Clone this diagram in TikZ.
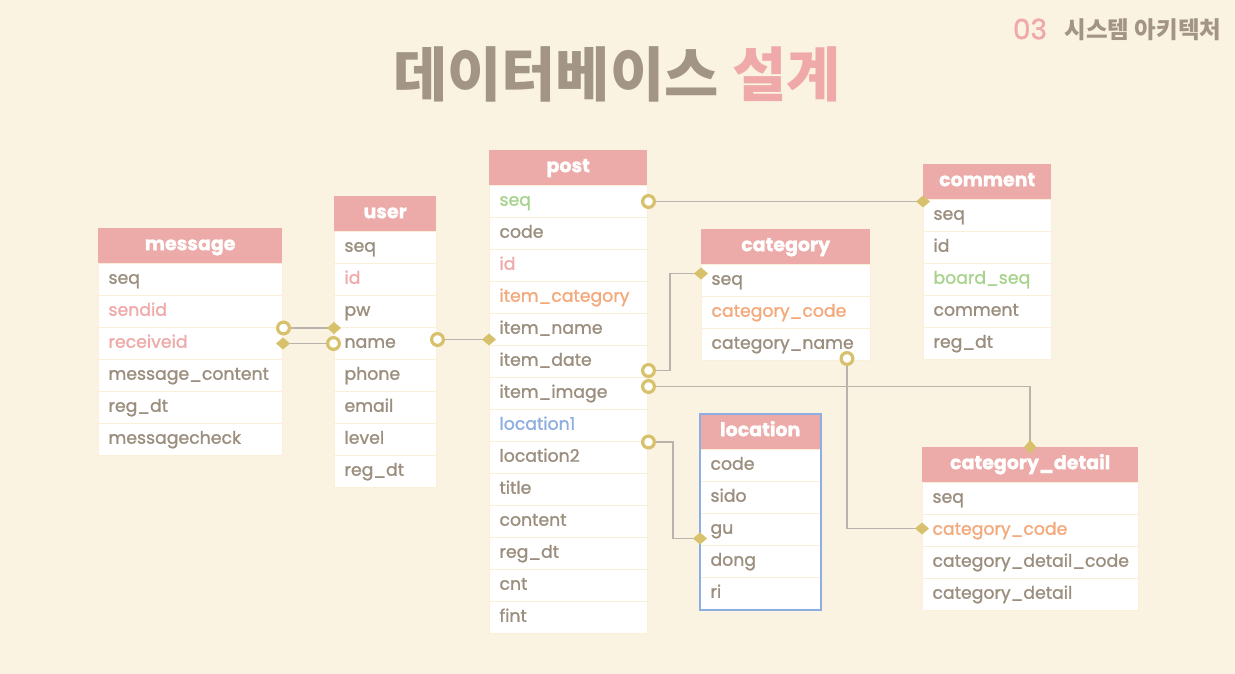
\documentclass[tikz,border=0pt]{standalone}
\usepackage{fontspec}
\setmainfont{Poppins}[FakeBold=1.2]
\newfontfamily\cjk{Noto Sans CJK KR}
\usetikzlibrary{arrows.meta}

\definecolor{bgcream}{HTML}{FBF3E1}
\definecolor{headpink}{HTML}{ECAAA8}
\definecolor{fldgray}{HTML}{9B8E7E}
\definecolor{keypink}{HTML}{EFA9A8}
\definecolor{keyorange}{HTML}{F4A97B}
\definecolor{keygreen}{HTML}{A8D38D}
\definecolor{keyblue}{HTML}{8DAEE0}
\definecolor{linkgray}{HTML}{B8B3AB}
\definecolor{gold}{HTML}{D8C16C}
\definecolor{rowline}{HTML}{FCEFDA}
\definecolor{titlegray}{HTML}{A29585}

\tikzset{
  ring/.tip={Circle[open,fill=white,color=gold,line width=3.2pt,length=15pt]},
  dia/.tip={Diamond[fill=gold,color=gold,length=14pt,width=12pt]},
  thead/.style={fill=headpink,text=white,font=\fontsize{19}{19}\selectfont\bfseries,
                minimum height=35pt,inner sep=0pt,text height=13pt,text depth=4pt},
  trow/.style={fill=white,draw=rowline,line width=1pt,minimum height=32pt,
               inner xsep=10pt,inner ysep=0pt,align=left,text height=12.5pt,text depth=4pt,
               font=\fontsize{17.3}{18}\selectfont},
  fld/.style={text=fldgray},
  pnk/.style={text=keypink},
  orn/.style={text=keyorange},
  grn/.style={text=keygreen},
  blu/.style={text=keyblue},
  link/.style={draw=linkgray,line width=1.8pt,shorten <=-7pt,shorten >=-7pt},
  locline/.style={draw=keyblue,line width=1.2pt}
}

% table: name, left, top, width, title, rows
\newcommand{\erdtable}[6]{%
  \pgfmathsetmacro\tw{#4-20}
  \node[thead,minimum width=#4pt,anchor=north west] (#1-h) at (#2,#3) {#5};
  \foreach \f/\c [count=\i] in {#6}{
    \node[trow,\c,minimum width=#4pt,text width=\tw pt,anchor=north west]
      (#1-\i) at (#2,#3+3+32*\i) {\f};
  }
}

\begin{document}
\begin{tikzpicture}[x=1pt,y=-1pt]
\useasboundingbox[fill=bgcream] (0,0) rectangle (1235,674);

% headings
\node[font=\fontsize{28}{28}\selectfont,text=keypink] (secnum) at (1030,29) {03};
\node[font=\cjk\fontsize{23.5}{23.5}\selectfont\bfseries,text=titlegray] (sectitle) at (1143,30) {시스템 아키텍처};
\node[font=\cjk\fontsize{59}{59}\selectfont\bfseries] (title) at (617,74)
  {\textcolor{titlegray}{데이터베이스} \textcolor{keypink}{설계}};

% tables
\erdtable{message}{98}{228}{184}{message}{seq/fld,sendid/pnk,receiveid/pnk,message\_content/fld,reg\_dt/fld,messagecheck/fld}
\erdtable{user}{334}{196}{102}{user}{seq/fld,id/pnk,pw/fld,name/fld,phone/fld,email/fld,level/fld,reg\_dt/fld}
\erdtable{post}{489}{150}{158}{post}{seq/grn,code/fld,id/pnk,item\_category/orn,item\_name/fld,item\_date/fld,item\_image/fld,location1/blu,location2/fld,title/fld,content/fld,reg\_dt/fld,cnt/fld,fint/fld}
\erdtable{category}{701}{229}{169}{category}{seq/fld,category\_code/orn,category\_name/fld}
\erdtable{comment}{923}{164}{128}{comment}{seq/fld,id/fld,board\_seq/grn,comment/fld,reg\_dt/fld}
\erdtable{loc}{700}{414}{120}{location}{code/fld,sido/fld,gu/fld,dong/fld,ri/fld}
\erdtable{detail}{922}{447}{216}{category\_detail}{seq/fld,category\_code/orn,category\_detail\_code/fld,category\_detail/fld}
\draw[locline] (loc-h.north west) rectangle (loc-5.south east);

% relations
\coordinate (namefk) at ([yshift=4pt]user-4.east);
\coordinate (datefk) at ([yshift=-9pt]post-6.east);
\coordinate (catpk) at ([yshift=7pt]category-1.west);
\coordinate (imgfk) at ([yshift=7pt]post-7.east);
\coordinate (catname) at ([xshift=-24pt,yshift=3pt]category-3.south east);
\coordinate (detcode) at ([yshift=2pt]detail-2.west);
\coordinate (locgu) at ([yshift=-9pt]loc-3.west);

\draw[link,ring-dia] (message-2.south east) -- (user-3.south west);
\draw[link,dia-ring] (message-3.east) -- (user-4.west);
\draw[link,ring-dia] (namefk) -- (namefk -| post-5.west);
\draw[link,ring-dia] (post-1.east) -- (post-1.east -| comment-h.south west);
\draw[link,ring-dia] (datefk) -- ++(22,0) |- (catpk);
\draw[link,ring-dia] (imgfk) -| (detail-h.north);
\draw[link,ring-dia] (catname) |- (detcode);
\draw[link,ring-dia] (post-8.south east) -- ++(25,0) |- (locgu);
\end{tikzpicture}
\end{document}
